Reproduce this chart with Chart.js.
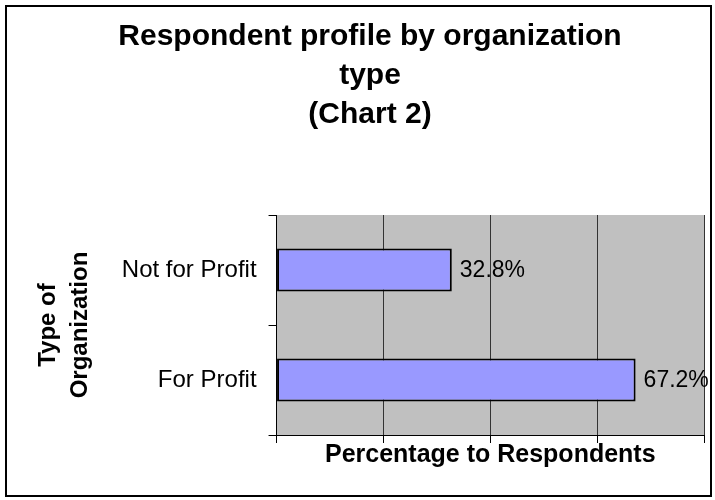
<!DOCTYPE html>
<html>
<head>
    <title>Respondent profile by organization type</title>
    <style>
        body { margin: 0; background: #fff; }
        .frame { position: absolute; left: 5px; top: 5px; border: 2px solid #000; width: 703px; height: 488px; }
    </style>
</head>
<body>
    <div class="frame">
        <canvas id="orgChart" width="703" height="488"></canvas>
    </div>

    <script src="https://cdn.jsdelivr.net/npm/chart.js"></script>
    <script>
        // chart data
        const categories = ['Not for Profit', 'For Profit'];
        const percentages = [32.8, 67.2];
        const xMin = 0;
        const xMax = 80;
        const xStep = 20;

        const FONT = "'Liberation Sans', Arial, sans-serif";

        // grey plot background like the old spreadsheet chart
        const plotBackground = {
            id: 'plotBackground',
            beforeDraw(chart) {
                const { ctx, chartArea } = chart;
                ctx.save();
                ctx.fillStyle = '#c0c0c0';
                ctx.fillRect(chartArea.left, chartArea.top, chartArea.right - chartArea.left, chartArea.bottom - chartArea.top);
                ctx.restore();
            }
        };

        // value labels at the end of each bar
        const valueLabels = {
            id: 'valueLabels',
            afterDatasetsDraw(chart) {
                const { ctx } = chart;
                const meta = chart.getDatasetMeta(0);
                ctx.save();
                ctx.font = '23px ' + FONT;
                ctx.fillStyle = '#000';
                ctx.textAlign = 'left';
                ctx.textBaseline = 'middle';
                meta.data.forEach((bar, i) => {
                    const v = chart.data.datasets[0].data[i];
                    ctx.fillText(v.toFixed(1) + '%', bar.x + 8, bar.y + 1);
                });
                ctx.restore();
            }
        };

        new Chart(document.getElementById('orgChart').getContext('2d'), {
            type: 'bar',
            data: {
                labels: categories,
                datasets: [{
                    data: percentages,
                    backgroundColor: '#9999ff',
                    borderColor: '#000',
                    borderWidth: 2,
                    borderSkipped: false,
                    barPercentage: 0.39,
                    categoryPercentage: 1
                }]
            },
            options: {
                indexAxis: 'y',
                responsive: false,
                animation: false,
                layout: { padding: { left: 29, right: 6, top: 0, bottom: 27 } },
                plugins: {
                    legend: { display: false },
                    tooltip: { enabled: false },
                    title: {
                        display: true,
                        text: ['Respondent profile by organization', 'type', '(Chart 2)'],
                        color: '#000',
                        font: { family: FONT, size: 30, weight: 'bold', lineHeight: 1.3 },
                        padding: { top: 10, bottom: 81 }
                    }
                },
                scales: {
                    x: {
                        min: xMin,
                        max: xMax,
                        ticks: { stepSize: xStep, display: false },
                        grid: { color: '#333', lineWidth: 1, tickLength: 8, tickColor: '#000' },
                        border: { color: '#000', width: 1 },
                        title: {
                            display: true,
                            text: 'Percentage to Respondents',
                            color: '#000',
                            font: { family: FONT, size: 25, weight: 'bold', lineHeight: 1.0 },
                            padding: 0
                        }
                    },
                    y: {
                        ticks: { color: '#000', font: { family: FONT, size: 24 }, padding: 12 },
                        grid: { offset: true, drawOnChartArea: false, tickLength: 8, color: '#000' },
                        border: { color: '#000', width: 1 },
                        title: {
                            display: true,
                            text: ['Type of', 'Organization'],
                            color: '#000',
                            font: { family: FONT, size: 24, weight: 'bold', lineHeight: 1.33 },
                            padding: { top: -4, bottom: 14 }
                        }
                    }
                }
            },
            plugins: [plotBackground, valueLabels]
        });
    </script>
</body>
</html>
